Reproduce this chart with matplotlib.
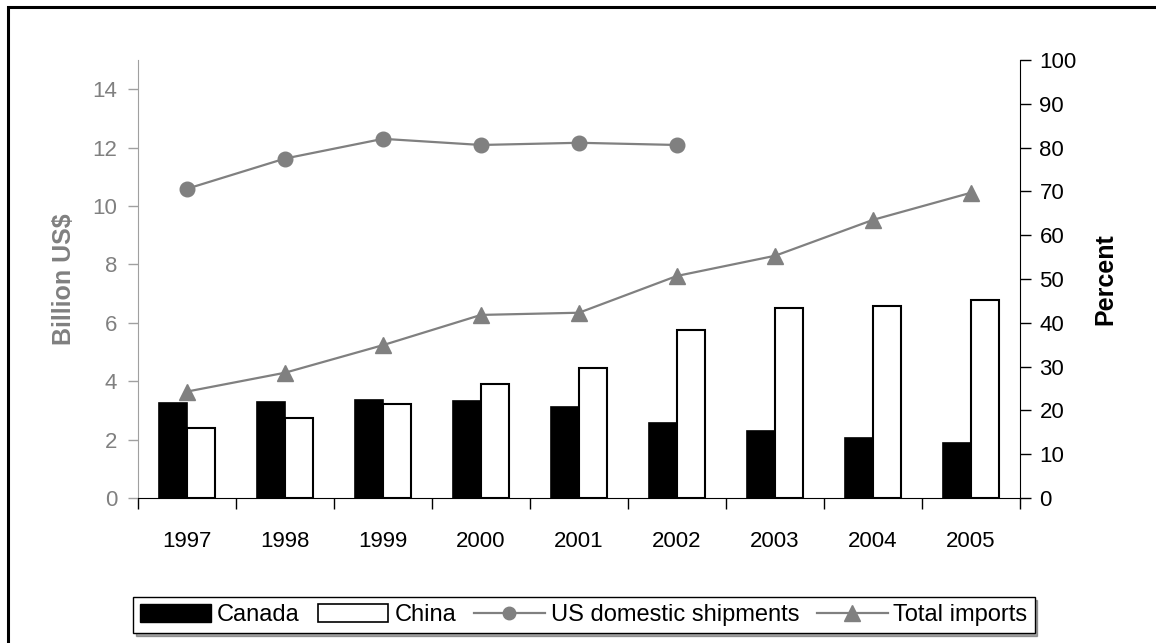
import matplotlib
matplotlib.use("Agg")
import matplotlib.pyplot as plt
from matplotlib.patches import Rectangle, Patch
from matplotlib.lines import Line2D
import numpy as np

plt.rcParams['font.family'] = ['Liberation Sans', 'DejaVu Sans']

years = ["1997", "1998", "1999", "2000", "2001", "2002", "2003", "2004", "2005"]
canada = [3.24, 3.30, 3.37, 3.31, 3.10, 2.56, 2.28, 2.07, 1.87]
china = [2.41, 2.74, 3.22, 3.92, 4.46, 5.76, 6.51, 6.58, 6.78]
us_domestic = [70.6, 77.5, 82.0, 80.6, 81.1, 80.6]
total_imports = [24.3, 28.6, 34.9, 41.8, 42.3, 50.7, 55.3, 63.5, 69.7]

gray = "#808080"
fs = 16
fs_label = 18
fs_leg = 17

fig = plt.figure(figsize=(11.56, 6.43), dpi=100)
ax = fig.add_axes([138 / 1156, 1 - 498 / 643, (1020 - 138) / 1156, (498 - 60) / 643])
ax2 = ax.twinx()

x = np.arange(len(years))
bw = 0.29
ax.bar(x - bw / 2, canada, bw, color="black", edgecolor="black", linewidth=1.2, zorder=2)
ax.bar(x + bw / 2, china, bw, color="white", edgecolor="black", linewidth=1.5, zorder=2)

ax2.plot(x[:len(us_domestic)], us_domestic, color=gray, lw=1.6, marker="o", ms=10.5,
         mfc=gray, mec=gray, zorder=3)
ax2.plot(x, total_imports, color=gray, lw=1.6, marker="^", ms=11.5,
         mfc=gray, mec=gray, zorder=3)

ax.set_xlim(-0.5, len(years) - 0.5)
ax.set_ylim(0, 15)
ax2.set_ylim(0, 100)

ax.set_yticks(np.arange(0, 15, 2))
ax2.set_yticks(np.arange(0, 101, 10))

# year labels at category centres, tick marks at category boundaries
ax.set_xticks(x)
ax.set_xticklabels(years, fontsize=fs)
ax.tick_params(axis="x", which="major", length=0, pad=24)
ax.set_xticks(np.arange(-0.5, len(years)), minor=True)
ax.tick_params(axis="x", which="minor", length=8, width=1, color="black", direction="out")

ax.tick_params(axis="y", labelsize=fs, labelcolor=gray, color="#a0a0a0",
               length=7, width=1, direction="out", pad=8)
ax2.tick_params(axis="y", labelsize=fs, colors="black", length=8, width=1,
                direction="out", pad=6)

ax.spines["top"].set_visible(False)
ax2.spines["top"].set_visible(False)
ax.spines["left"].set_color("#a0a0a0")
ax2.spines["left"].set_visible(False)
ax.spines["right"].set_visible(False)
ax2.spines["right"].set_color("black")
ax.spines["bottom"].set_color("black")
ax2.spines["bottom"].set_visible(False)

ax.set_ylabel("Billion US$", fontsize=fs_label, fontweight="bold", color=gray, labelpad=12)
ax2.set_ylabel("Percent", fontsize=fs_label, fontweight="bold", color="black", labelpad=12)

handles = [
    Patch(facecolor="black", edgecolor="black", label="Canada"),
    Patch(facecolor="white", edgecolor="black", linewidth=1.2, label="China"),
    Line2D([], [], color=gray, lw=1.6, marker="o", ms=9, label="US domestic shipments"),
    Line2D([], [], color=gray, lw=1.6, marker="^", ms=11, label="Total imports"),
]
leg = fig.legend(handles=handles, loc="center", bbox_to_anchor=(584 / 1156, 1 - 615 / 643),
                 ncol=4, fontsize=fs_leg, frameon=True, fancybox=False, shadow=True,
                 handlelength=3.0, handleheight=0.8, handletextpad=0.25, columnspacing=0.75,
                 borderpad=0.3, borderaxespad=0)
leg.get_frame().set_edgecolor("black")
leg.get_frame().set_linewidth(1.0)

# outer frame around the figure
fig.add_artist(Rectangle((8 / 1156, -0.1), 1.2, (1 - 7.5 / 643) + 0.1,
                         transform=fig.transFigure, fill=False, lw=2.2, ec="black"))

fig.savefig("out.png", dpi=100)
